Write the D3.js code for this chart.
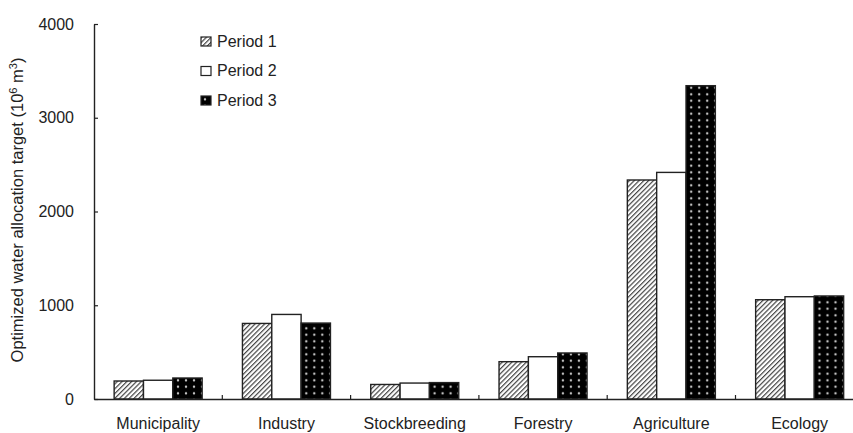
<!DOCTYPE html>
<html>
<head>
<meta charset="utf-8">
<script src="https://cdn.jsdelivr.net/npm/d3@7/dist/d3.min.js"></script>
<style>
  html, body { margin: 0; padding: 0; background: #fff; }
  svg { display: block; }
  text { font-family: "Liberation Sans", Arial, Helvetica, sans-serif; fill: #222; }
</style>
</head>
<body>
<svg id="chart" width="853" height="433"></svg>
<script>
const categories = ["Municipality", "Industry", "Stockbreeding", "Forestry", "Agriculture", "Ecology"];
const periods = ["Period 1", "Period 2", "Period 3"];
const period1 = [192, 806, 155, 398, 2336, 1059];
const period2 = [200, 902, 170, 451, 2417, 1091];
const period3 = [224, 810, 175, 491, 3342, 1099];
const seriesValues = [period1, period2, period3];
const yTicks = [0, 1000, 2000, 3000, 4000];
const yLabel = "Optimized water allocation target (10";

const svg = d3.select("#chart");
const W = 853, H = 433;
const left = 94, baseY = 399, topY = 24;

const defs = svg.append("defs");
const hs = 3.4;
const hatch = defs.append("pattern").attr("id", "hatch")
  .attr("patternUnits", "userSpaceOnUse").attr("width", hs).attr("height", hs)
  .attr("patternTransform", "rotate(45)");
hatch.append("rect").attr("width", hs).attr("height", hs).attr("fill", "#fff");
hatch.append("line").attr("x1", 0.6).attr("y1", 0).attr("x2", 0.6).attr("y2", hs)
  .attr("stroke", "#444").attr("stroke-width", 1.2);

const dots = defs.append("pattern").attr("id", "dots")
  .attr("patternUnits", "userSpaceOnUse").attr("width", 8).attr("height", 6.5);
dots.append("rect").attr("width", 8).attr("height", 6.5).attr("fill", "#000");
dots.append("circle").attr("cx", 4).attr("cy", 3.2).attr("r", 1.1).attr("fill", "#ddd");

const fills = ["url(#hatch)", "#fff", "url(#dots)"];

const x0 = d3.scaleBand().domain(categories).range([left, left + 6 * 128.3]).padding(0);
const x1 = d3.scaleBand().domain(periods).range([x0.bandwidth() * 0.157, x0.bandwidth() * 0.843]).padding(0);
const y = d3.scaleLinear().domain([0, 4000]).range([baseY, topY]);

// Bars
const groups = svg.append("g").selectAll("g").data(categories).join("g")
  .attr("transform", d => `translate(${x0(d)},0)`);
groups.selectAll("rect").data((c, ci) => periods.map((p, pi) => ({p, pi, v: seriesValues[pi][ci]})))
  .join("rect")
  .attr("x", d => x1(d.p))
  .attr("y", d => y(d.v))
  .attr("width", x1.bandwidth())
  .attr("height", d => baseY - y(d.v))
  .attr("fill", d => fills[d.pi])
  .attr("stroke", "#222").attr("stroke-width", 1.4);

// Y axis
const yAxis = svg.append("g").attr("transform", `translate(${left},0)`)
  .call(d3.axisLeft(y).tickValues(yTicks).tickSizeInner(-4).tickSizeOuter(0).tickPadding(20).tickFormat(d3.format("d")));
yAxis.select(".domain").attr("stroke", "#222").attr("stroke-width", 1.4);
yAxis.selectAll(".tick line").attr("stroke", "#222").attr("stroke-width", 1.2);
yAxis.selectAll(".tick text").attr("font-size", 16).attr("fill", "#222")
  .attr("font-family", "'Liberation Sans', Arial, sans-serif");

// X axis
const xAxis = svg.append("g").attr("transform", `translate(0,${baseY})`)
  .call(d3.axisBottom(x0).tickSize(0).tickPadding(19));
xAxis.select(".domain").attr("stroke", "#222").attr("stroke-width", 1.4);
xAxis.selectAll(".tick text").attr("font-size", 16).attr("fill", "#222")
  .attr("font-family", "'Liberation Sans', Arial, sans-serif");
// category separator ticks (pointing up)
svg.append("g").selectAll("line").data(categories.slice(1)).join("line")
  .attr("x1", d => x0(d)).attr("x2", d => x0(d))
  .attr("y1", baseY).attr("y2", baseY - 4)
  .attr("stroke", "#222").attr("stroke-width", 1.2);

// Y label
const yl = svg.append("text")
  .attr("transform", `translate(23,210) rotate(-90)`)
  .attr("text-anchor", "middle").attr("font-size", 16.5);
yl.append("tspan").text(yLabel);
yl.append("tspan").attr("font-size", 11).attr("dy", -6).text("6");
yl.append("tspan").attr("font-size", 16.5).attr("dy", 6).text(" m");
yl.append("tspan").attr("font-size", 11).attr("dy", -6).text("3");
yl.append("tspan").attr("font-size", 16.5).attr("dy", 6).text(")");

// Legend
const legend = svg.append("g").selectAll("g").data(periods).join("g")
  .attr("transform", (d, i) => `translate(201,${37 + i * 29.5})`);
legend.append("rect").attr("width", 10).attr("height", 9)
  .attr("fill", (d, i) => fills[i]).attr("stroke", "#222").attr("stroke-width", 1.2);
legend.append("text").attr("x", 16).attr("y", 9.5).attr("font-size", 16).text(d => d);
</script>
</body>
</html>
